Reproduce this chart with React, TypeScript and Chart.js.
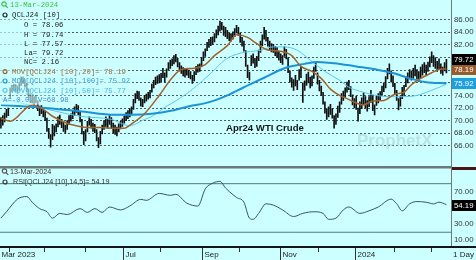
import React, { useEffect, useRef } from 'react';
import { Chart, registerables } from 'chart.js';
Chart.register(...registerables);

// ---------- data ----------
const lows = [
  68.8, 69.3, 69.8, 70.5, 70.8, 73.5, 74.5, 74.8, 74.6, 74.3,
  74.8, 75.6, 75.9, 75.3, 74.6, 73.6, 72.9, 72.8, 72.5, 72.9,
  71.6, 70.8, 71.1, 70.6, 70.0, 68.3, 67.2, 65.8, 67.0, 67.6,
  68.2, 69.0, 69.4, 68.9, 68.3, 68.0, 68.6, 69.4, 69.9, 70.3,
  70.8, 71.3, 70.9, 69.8, 67.9, 66.2, 66.8, 68.2, 69.3, 68.8,
  68.3, 68.1, 66.8, 65.7, 66.3, 67.9, 68.6, 69.1, 68.8, 69.4,
  68.8, 68.0, 67.8, 67.6, 68.2, 68.7, 69.1, 69.6, 70.0, 70.3,
  70.6, 71.0, 71.8, 72.8, 73.5, 73.2, 72.3, 72.2, 72.8, 73.1,
  73.4, 73.6, 74.5, 75.2, 75.7, 75.9, 76.0, 76.2, 76.8, 76.1,
  76.9, 78.0, 78.3, 78.7, 79.0, 79.3, 78.5, 77.9, 77.5, 77.1,
  76.9, 77.2, 76.8, 76.6, 75.9, 76.3, 77.3, 77.7, 77.8, 78.6,
  79.5, 80.2, 81.1, 81.6, 81.9, 82.1, 82.5, 83.1, 83.6, 84.2,
  84.4, 83.5, 83.3, 83.0, 82.7, 82.6, 82.9, 83.3, 83.9, 83.5,
  82.4, 81.8, 81.0, 78.6, 76.8, 76.4, 78.7, 79.1, 78.4, 78.6,
  79.5, 80.8, 81.9, 82.9, 82.6, 81.8, 81.1, 80.9, 80.8, 80.3,
  80.0, 79.6, 79.2, 78.9, 80.2, 79.8, 77.6, 76.1, 75.3, 74.8,
  75.5, 74.9, 76.4, 76.8, 72.9, 74.8, 75.6, 76.0, 75.2, 75.5,
  76.7, 77.8, 75.8, 74.7, 74.0, 72.6, 71.2, 70.2, 70.6, 71.0,
  70.4, 68.8, 69.4, 70.5, 71.3, 72.6, 73.2, 73.7, 74.5, 74.9,
  73.8, 72.5, 72.0, 71.8, 69.9, 71.1, 71.9, 72.6, 72.0, 71.5,
  72.2, 72.9, 71.6, 70.9, 72.4, 72.8, 73.2, 74.0, 74.6, 75.2,
  76.6, 77.4, 76.1, 75.4, 74.2, 73.2, 71.7, 72.3, 73.5, 74.0,
  75.4, 76.0, 76.6, 76.4, 76.7, 77.1, 76.6, 76.2, 76.8, 77.2,
  77.6, 77.3, 77.8, 78.5, 79.2, 78.6, 78.3, 77.8, 78.2, 77.5,
  77.2, 77.9, 77.57,
];
const highs = [
  70.5, 70.8, 71.2, 71.8, 72.0, 75.2, 75.6, 75.8, 75.7, 75.5,
  76.0, 76.9, 76.9, 76.5, 75.9, 75.0, 74.2, 73.9, 73.8, 74.0,
  73.2, 72.3, 72.4, 71.9, 71.5, 70.4, 68.8, 67.8, 69.4, 69.2,
  69.5, 70.6, 70.9, 70.2, 69.8, 69.3, 70.0, 70.8, 71.1, 71.6,
  72.2, 72.6, 72.4, 71.4, 70.2, 68.3, 68.6, 69.9, 70.6, 70.2,
  69.6, 69.4, 68.6, 67.3, 68.3, 69.3, 70.0, 70.6, 70.3, 70.8,
  70.5, 69.6, 69.3, 69.0, 69.5, 69.9, 70.3, 70.8, 71.3, 71.6,
  71.9, 72.2, 73.4, 74.3, 74.7, 74.6, 73.6, 73.4, 74.0, 74.2,
  74.5, 74.8, 75.8, 76.4, 76.9, 77.1, 77.3, 77.5, 78.3, 77.6,
  78.2, 79.2, 79.6, 79.8, 80.3, 80.5, 79.9, 79.2, 78.7, 78.4,
  78.2, 78.3, 78.0, 77.8, 77.2, 77.8, 78.6, 78.9, 79.0, 80.0,
  80.9, 81.4, 82.4, 82.9, 83.2, 83.3, 83.8, 84.4, 85.0, 85.8,
  85.6, 85.0, 84.8, 84.3, 83.9, 83.8, 84.1, 84.6, 85.1, 84.8,
  83.9, 83.2, 82.6, 81.1, 78.8, 77.7, 80.3, 80.6, 79.9, 80.2,
  81.2, 82.6, 83.6, 84.8, 84.3, 83.2, 82.6, 82.2, 82.1, 81.8,
  81.6, 81.0, 80.6, 80.3, 81.7, 81.3, 80.0, 77.9, 76.8, 76.5,
  77.2, 76.4, 78.1, 78.6, 76.0, 76.3, 77.4, 77.7, 76.9, 77.1,
  78.5, 79.3, 77.6, 76.4, 75.5, 74.5, 73.0, 71.9, 72.2, 72.6,
  71.9, 70.8, 71.1, 72.3, 73.0, 74.3, 74.7, 75.2, 76.1, 76.4,
  75.4, 74.1, 73.5, 73.9, 72.0, 73.0, 73.6, 74.4, 73.8, 73.2,
  73.8, 74.8, 73.9, 72.5, 73.9, 74.3, 74.6, 75.5, 76.0, 77.0,
  78.3, 79.0, 77.9, 77.1, 75.9, 74.8, 73.5, 73.9, 75.3, 75.6,
  77.0, 77.6, 78.1, 77.9, 78.3, 78.8, 78.1, 77.8, 78.5, 78.9,
  79.2, 78.8, 79.3, 80.1, 80.9, 80.3, 80.0, 79.4, 79.8, 79.0,
  78.5, 79.2, 79.74,
];

const ma20Idx = [0, 5, 17, 23, 28, 36, 41, 47, 54, 62, 67, 71, 78, 86, 93, 98, 105, 111, 116, 123, 128, 134, 139, 145, 152, 158, 163, 169, 174, 179, 184, 188, 193, 197, 202, 208, 214, 219, 223, 228, 234, 238, 242];
const ma20Val = [70.4, 69.9, 72.5, 71.8, 70.7, 69.6, 69.2, 68.9, 68.9, 68.8, 68.8, 69.5, 71.1, 74.0, 76.8, 78.1, 78.3, 78.9, 80.3, 81.9, 83.6, 83.2, 82.2, 81.2, 81.0, 80.3, 78.6, 77.8, 76.7, 75.0, 74.0, 73.5, 72.8, 72.5, 73.1, 73.2, 74.2, 74.5, 75.7, 76.7, 77.6, 78.1, 78.19];

const ma100Idx = [0, 21, 43, 62, 71, 82, 93, 104, 110, 117, 123, 132, 143, 154, 165, 172, 184, 193, 204, 213, 222, 231, 242];
const ma100Val = [72.5, 72.1, 71.5, 70.95, 70.95, 71.1, 71.6, 72.4, 72.7, 73.3, 74.0, 75.3, 76.8, 78.3, 79.0, 79.3, 79.0, 78.6, 78.1, 77.55, 76.7, 76.1, 75.92];

const ma50Idx = [0, 21, 43, 60, 70, 78, 81, 89, 97, 105, 114, 122, 130, 141, 148, 154, 161, 168, 176, 184, 189, 197, 204, 211, 218, 226, 233, 242];
const ma50Val = [73.5, 72.1, 70.7, 70.2, 69.2, 70.2, 70.5, 72.1, 73.5, 75.2, 77.5, 79.7, 80.7, 81.15, 81.7, 81.7, 81.15, 79.6, 77.8, 76.4, 75.3, 74.5, 74.0, 73.8, 73.8, 74.0, 74.7, 75.77];

const rsiIdx = [0, 3, 9, 14, 17, 21, 25, 28, 32, 36, 43, 47, 51, 55, 59, 65, 70, 76, 79, 86, 92, 95, 101, 107, 111, 115, 119, 122, 126, 128, 132, 135, 137, 140, 144, 148, 153, 159, 164, 170, 175, 178, 182, 186, 189, 195, 200, 205, 212, 215, 218, 222, 226, 231, 235, 238, 242];
const rsiVal = [37.4, 45.3, 60.9, 64.1, 57.1, 49.2, 45.3, 37.4, 43.3, 41.8, 49.2, 44.5, 49.2, 44.5, 51.2, 47.6, 52.4, 60.6, 59.4, 68.0, 65.6, 66.8, 55.9, 52.4, 73.5, 80.6, 82.9, 74.7, 66.5, 62.9, 57.1, 37.4, 35.9, 43.3, 55.1, 53.5, 47.6, 39.4, 43.3, 45.3, 43.3, 35.9, 37.4, 47.6, 51.2, 43.3, 46.5, 51.2, 60.9, 55.1, 46.5, 55.1, 57.9, 57.1, 55.1, 57.1, 54.19];
const rsiBands = [20, 80];

const priceTicks = [66, 68, 70, 72, 74, 76, 78, 80, 82, 84, 86];
const rsiTicks = [10, 30, 50, 70];

const monthIdx = [5, 24, 46, 67, 87, 110, 130, 152, 173, 193, 214, 234];
const monthLabels = ['', '', '', 'Jul', '', 'Sep', '', 'Nov', '', '2024', '', ''];
const firstLabel = 'Mar 2023';
const periodLabel = '1 Day';

const lastOpen = 78.06;
const lastClose = 79.72;
const netChange = 2.16;
const ma20Last = 78.19;
const ma100Last = 75.92;
const ma50Last = 75.77;
const rsiLast = 54.19;
const dateText = '13-Mar-2024';
const symbol = 'QCLJ24 [10]';

const N_SLOTS = 245;
const BG = '#ccffff';
const C_MA20 = '#a0622c';
const C_MA100 = '#1b93d8';
const C_MA50 = '#5cc6ef';

const pts = (xs: number[], ys: number[]) => xs.map((x, i) => ({ x, y: ys[i] }));

function drawMag(ctx: CanvasRenderingContext2D, x: number, y: number, color: string) {
  ctx.save();
  ctx.strokeStyle = color;
  ctx.lineWidth = 1.2;
  ctx.beginPath();
  ctx.arc(x, y, 2.2, 0, Math.PI * 2);
  ctx.stroke();
  ctx.beginPath();
  ctx.moveTo(x + 1.6, y + 1.6);
  ctx.lineTo(x + 3.8, y + 3.8);
  ctx.stroke();
  ctx.restore();
}
function drawRing(ctx: CanvasRenderingContext2D, x: number, y: number, color: string) {
  ctx.save();
  ctx.strokeStyle = color;
  ctx.lineWidth = 1.2;
  ctx.beginPath();
  ctx.arc(x, y, 2, 0, Math.PI * 2);
  ctx.stroke();
  ctx.restore();
}
function valueBox(ctx: CanvasRenderingContext2D, x: number, y: number, text: string, bg: string) {
  ctx.save();
  ctx.fillStyle = bg;
  ctx.fillRect(x, Math.round(y) - 5, 476 - x, 11);
  ctx.fillStyle = '#ffffff';
  ctx.font = '7.8px "Liberation Sans", Arial, sans-serif';
  ctx.textBaseline = 'middle';
  ctx.textAlign = 'left';
  ctx.fillText(text, x + 2, Math.round(y) + 0.5);
  ctx.restore();
}

const mainDecor = {
  id: 'mainDecor',
  beforeDatasetsDraw(chart: any) {
    const { ctx } = chart;
    ctx.save();
    ctx.font = 'bold 17px "Liberation Sans", Arial, sans-serif';
    ctx.fillStyle = 'rgba(170,205,205,0.55)';
    ctx.textBaseline = 'middle';
    ctx.fillText('ProphetX', 357, 141);
    ctx.restore();
  },
  afterDraw(chart: any) {
    const { ctx, chartArea, scales } = chart;
    const ys = scales.y;
    ctx.save();
    ctx.fillStyle = '#707878';
    ctx.fillRect(chartArea.right, 0, 1, chart.height);

    const rows = [
      { t: dateText, x: 10, y: 5, c: '#3cc43c', icon: 'mag' },
      { t: symbol, x: 12, y: 15, c: '#222', icon: 'ring' },
      { t: 'O = ' + lastOpen.toFixed(2), x: 24, y: 25, c: '#222' },
      { t: 'H = ' + highs[highs.length - 1].toFixed(2), x: 24, y: 34.3, c: '#222' },
      { t: 'L = ' + lows[lows.length - 1].toFixed(2), x: 24, y: 43.6, c: '#222' },
      { t: 'La= ' + lastClose.toFixed(2), x: 24, y: 52.8, c: '#222' },
      { t: 'NC= ' + netChange.toFixed(2), x: 24, y: 62, c: '#222' },
      { t: 'MOV[QCLJ24 [10],20]= ' + ma20Last.toFixed(2), x: 12, y: 71.6, c: '#9c6a3c', icon: 'ring', ic: C_MA20 },
      { t: 'MOV[QCLJ24 [10],100]= ' + ma100Last.toFixed(2), x: 12, y: 81, c: '#3d9bd8', icon: 'ring', ic: C_MA100 },
      { t: 'MOV[QCLJ24 [10],50]= ' + ma50Last.toFixed(2), x: 12, y: 90.3, c: '#45b3e6', icon: 'ring', ic: C_MA50 },
      { t: 'A=-0.0, V=68.98', x: 3, y: 100, c: '#4a86d8' },
    ];
    ctx.font = '7.3px "Liberation Mono", "DejaVu Sans Mono", monospace';
    ctx.textBaseline = 'middle';
    for (const r of rows) {
      const w = ctx.measureText(r.t).width;
      ctx.fillStyle = 'rgba(204,255,255,0.65)';
      ctx.fillRect(0, r.y - 4.6, r.x + w + 2, 9.3);
    }
    for (const r of rows) {
      ctx.fillStyle = r.c;
      ctx.fillText(r.t, r.x, r.y + 0.5);
      if (r.icon === 'mag') drawMag(ctx, 4, 4, r.c);
      if (r.icon === 'ring') drawRing(ctx, 5, r.y, (r as any).ic || '#222');
    }

    ctx.font = 'bold 9.6px "Liberation Sans", Arial, sans-serif';
    ctx.fillStyle = '#151515';
    ctx.fillText('Apr24 WTI Crude', 226, 128);

    const bx = chartArea.right + 1;
    valueBox(ctx, bx, ys.getPixelForValue(ma100Last), ma100Last.toFixed(2), '#1e9fe0');
    valueBox(ctx, bx, ys.getPixelForValue(ma20Last), ma20Last.toFixed(2), '#9a5b2b');
    valueBox(ctx, bx, ys.getPixelForValue(lastClose), lastClose.toFixed(2), '#000000');
    ctx.restore();
  },
};

const rsiDecor = {
  id: 'rsiDecor',
  afterDraw(chart: any) {
    const { ctx, chartArea, scales } = chart;
    const xs = scales.x;
    const ys = scales.y;
    ctx.save();
    ctx.fillStyle = '#6b7878';
    ctx.fillRect(0, 0, chartArea.right, 2.5);
    ctx.fillStyle = '#4a1515';
    ctx.fillRect(chartArea.right, 1, 476 - chartArea.right, 3);
    ctx.fillStyle = '#707878';
    ctx.fillRect(chartArea.right, 0, 1, chartArea.bottom);
    ctx.fillStyle = '#151515';
    ctx.fillRect(0, chartArea.bottom - 1, 476, 2);

    const tY = chartArea.bottom + 1;
    ctx.font = '8px "Liberation Sans", Arial, sans-serif';
    ctx.textBaseline = 'middle';
    monthIdx.forEach((m, i) => {
      const px = Math.round(xs.getPixelForValue(m - 0.5));
      const major = monthLabels[i] !== '';
      ctx.fillStyle = '#333';
      ctx.fillRect(px, tY, 1, major ? chart.height - tY : 4);
      if (major) {
        ctx.fillStyle = '#222';
        ctx.fillText(monthLabels[i], px + 2.5, tY + 6.5);
      }
    });
    ctx.fillStyle = '#222';
    ctx.fillText(firstLabel, 1.5, tY + 6.5);
    ctx.fillText(periodLabel, chartArea.right + 2, tY + 6.5);

    ctx.font = '7.2px "Liberation Sans", Arial, sans-serif';
    ctx.fillStyle = '#333';
    drawMag(ctx, 4.5, 5, '#555');
    ctx.fillText(dateText, 10, 6);
    drawRing(ctx, 5, 16, '#333');
    ctx.fillText('RSI[QCLJ24 [10],14,5]= ' + rsiLast.toFixed(2), 13, 16);

    valueBox(ctx, chartArea.right + 1, ys.getPixelForValue(rsiLast), rsiLast.toFixed(2), '#000000');
    ctx.restore();
  },
};

export default function App() {
  const mainRef = useRef<HTMLCanvasElement>(null);
  const rsiRef = useRef<HTMLCanvasElement>(null);

  useEffect(() => {
    const axisFont = { family: '"Liberation Sans", Arial, sans-serif', size: 7.8 };
    const main = new Chart(mainRef.current as HTMLCanvasElement, {
      type: 'bar',
      data: {
        datasets: [
          { type: 'line', data: pts(ma20Idx, ma20Val), borderColor: C_MA20, borderWidth: 1.5, pointRadius: 0, cubicInterpolationMode: 'monotone', order: 0 } as any,
          { type: 'line', data: pts(ma100Idx, ma100Val), borderColor: C_MA100, borderWidth: 2, pointRadius: 0, cubicInterpolationMode: 'monotone', order: 1 } as any,
          { type: 'line', data: pts(ma50Idx, ma50Val), borderColor: C_MA50, borderWidth: 1, pointRadius: 0, cubicInterpolationMode: 'monotone', order: 1 } as any,
          { type: 'bar', data: lows.map((l, i) => ({ x: i, y: [l, highs[i]] })), backgroundColor: '#111', barThickness: 1, order: 5 } as any,
        ],
      },
      options: {
        responsive: false,
        animation: false,
        events: [],
        layout: { padding: 0 },
        plugins: { legend: { display: false }, tooltip: { enabled: false } },
        scales: {
          x: { type: 'linear', min: -0.5, max: N_SLOTS - 0.5, display: false, offset: false },
          y: {
            position: 'right',
            min: 64.03,
            max: 87.91,
            afterFit: (s: any) => { s.width = 25; },
            afterBuildTicks: (s: any) => { s.ticks = priceTicks.map((v) => ({ value: v })); },
            ticks: { callback: (v: any) => Number(v).toFixed(2), color: '#333', font: axisFont, padding: 3 },
            grid: { color: '#4e5c5c', lineWidth: 1, drawTicks: false },
            border: { display: false, dash: [2, 2] },
          },
        },
      } as any,
      plugins: [mainDecor],
    });

    const rsi = new Chart(rsiRef.current as HTMLCanvasElement, {
      type: 'line',
      data: {
        datasets: [
          { data: pts(rsiIdx, rsiVal), borderColor: '#3a5858', borderWidth: 1, pointRadius: 0, cubicInterpolationMode: 'monotone' },
          { data: [{ x: -0.5, y: rsiBands[0] }, { x: N_SLOTS - 0.5, y: rsiBands[0] }], borderColor: '#4a7d7d', borderWidth: 1, pointRadius: 0 },
          { data: [{ x: -0.5, y: rsiBands[1] }, { x: N_SLOTS - 0.5, y: rsiBands[1] }], borderColor: '#4a7d7d', borderWidth: 1, pointRadius: 0 },
        ],
      },
      options: {
        responsive: false,
        animation: false,
        events: [],
        layout: { padding: { top: 4, bottom: 13, left: 0, right: 0 } },
        plugins: { legend: { display: false }, tooltip: { enabled: false } },
        scales: {
          x: { type: 'linear', min: -0.5, max: N_SLOTS - 0.5, display: false, offset: false },
          y: {
            position: 'right',
            min: 1.76,
            max: 92.35,
            afterFit: (s: any) => { s.width = 25; },
            afterBuildTicks: (s: any) => { s.ticks = rsiTicks.map((v) => ({ value: v })); },
            ticks: { callback: (v: any) => Number(v).toFixed(2), color: '#333', font: axisFont, padding: 3 },
            grid: { display: false, drawTicks: false },
            border: { display: false },
          },
        },
      } as any,
      plugins: [rsiDecor],
    });

    return () => {
      main.destroy();
      rsi.destroy();
    };
  }, []);

  return (
    <div style={{ position: 'fixed', left: 0, top: 0, width: 476, height: 260, background: BG, overflow: 'hidden' }}>
      <canvas ref={mainRef} width={476} height={166} style={{ position: 'absolute', left: 0, top: 0, display: 'block' }} />
      <canvas ref={rsiRef} width={476} height={94} style={{ position: 'absolute', left: 0, top: 166, display: 'block' }} />
    </div>
  );
}
